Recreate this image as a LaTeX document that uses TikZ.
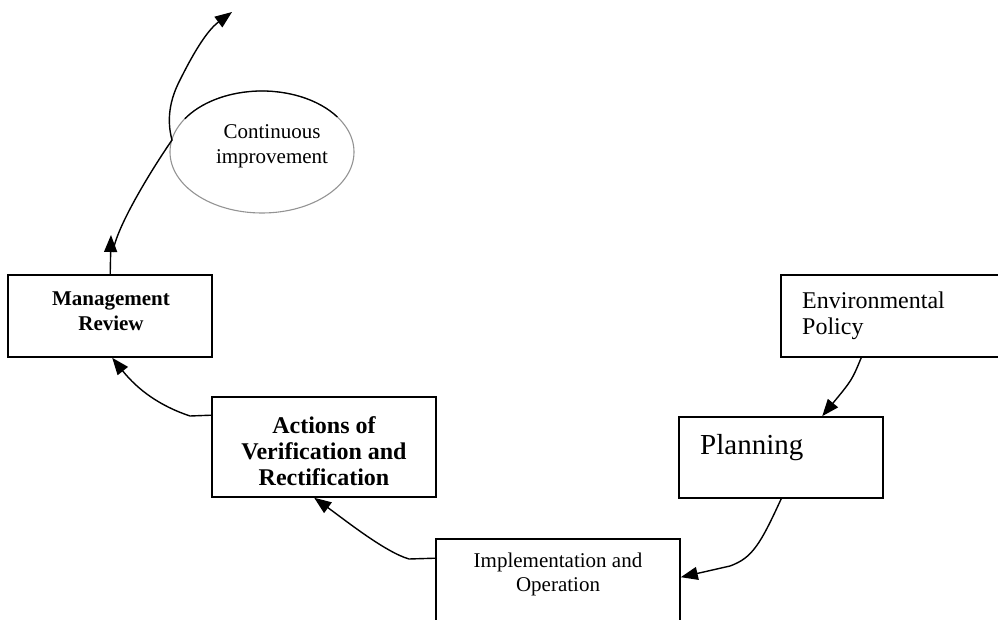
\documentclass[tikz,border=0pt]{standalone}
\usepackage{fontspec}
\setmainfont{Liberation Serif}
\usetikzlibrary{arrows.meta,shapes.geometric,calc}
\begin{document}
\begin{tikzpicture}[x=1pt,y=1pt,
  box/.style={draw,line width=1.6pt,rectangle,inner sep=0pt},
  arr/.style={line width=1.4pt,-{Triangle[length=17pt,width=13pt]}},
  txt/.style={inner sep=0pt,align=center}]
\clip (0,0) rectangle (998,619);
% boxes
\node[box,minimum width=204pt,minimum height=82pt] (mr) at (110,303) {};
\node[box,minimum width=224pt,minimum height=100pt] (act) at (324,172) {};
\node[box,minimum width=229pt,minimum height=82pt] (env) at (895.5,303) {};
\node[box,minimum width=204pt,minimum height=81pt] (plan) at (781,161.5) {};
\node[box,minimum width=244pt,minimum height=101pt] (impl) at (558,29.5) {};
\node[ellipse,draw=gray!85,line width=1.1pt,minimum width=184pt,minimum height=122pt,inner sep=0pt] (ci) at (262,467) {};
\draw[line width=1.3pt] ($(ci.center)+(35:92 and 61)$) arc[start angle=35,end angle=147,x radius=92,y radius=61];
% texts
\node[txt,anchor=north,font=\fontsize{21}{25}\selectfont\bfseries] (mrt) at (111,327) {Management\\Review};
\node[txt,anchor=north,font=\fontsize{24}{26}\selectfont\bfseries] (actt) at (324,203) {Actions of\\Verification and\\Rectification};
\node[inner sep=0pt,align=left,anchor=north west,font=\fontsize{24}{26}\selectfont] (envt) at (802,327) {Environmental\\Policy};
\node[inner sep=0pt,anchor=north west,font=\fontsize{29}{33}\selectfont] (plant) at (700,185) {Planning};
\node[txt,anchor=north,font=\fontsize{21}{24}\selectfont] (implt) at (558,66) {Implementation and\\Operation};
\node[txt,anchor=north,font=\fontsize{21}{25}\selectfont] (cit) at (272,495) {Continuous\\improvement};
% connectors
\draw[arr] ($(env.south west)+(81,0)$) .. controls (852,239) .. ($(plan.north west)+(144,0)$);
\draw[arr] ($(plan.south west)+(103,0)$) .. controls (760,74) and (752,61) .. (730,53) -- ($(impl.north east)+(0,-39)$);
\draw[arr] ($(impl.north west)+(0,-20)$) -- (409,60) .. controls (385,67) and (345,99) .. ($(act.south west)+(103,0)$);
\draw[arr] ($(act.north west)+(0,-19)$) -- (190,203) .. controls (160,213) and (138,229) .. ($(mr.south west)+(105,0)$);
\coordinate (mrup) at (111,384);
\draw[arr] ($(mr.north west)+(103,0)$) -- (mrup);
\coordinate (cstart) at (113,367);
\coordinate (cend) at (232,607);
\draw[arr] (cstart) .. controls (116,391) and (150,447) .. (172,479) .. controls (168,494) and (167,514) .. (180,539) .. controls (190,559) and (205,587) .. (cend);
\end{tikzpicture}
\end{document}
